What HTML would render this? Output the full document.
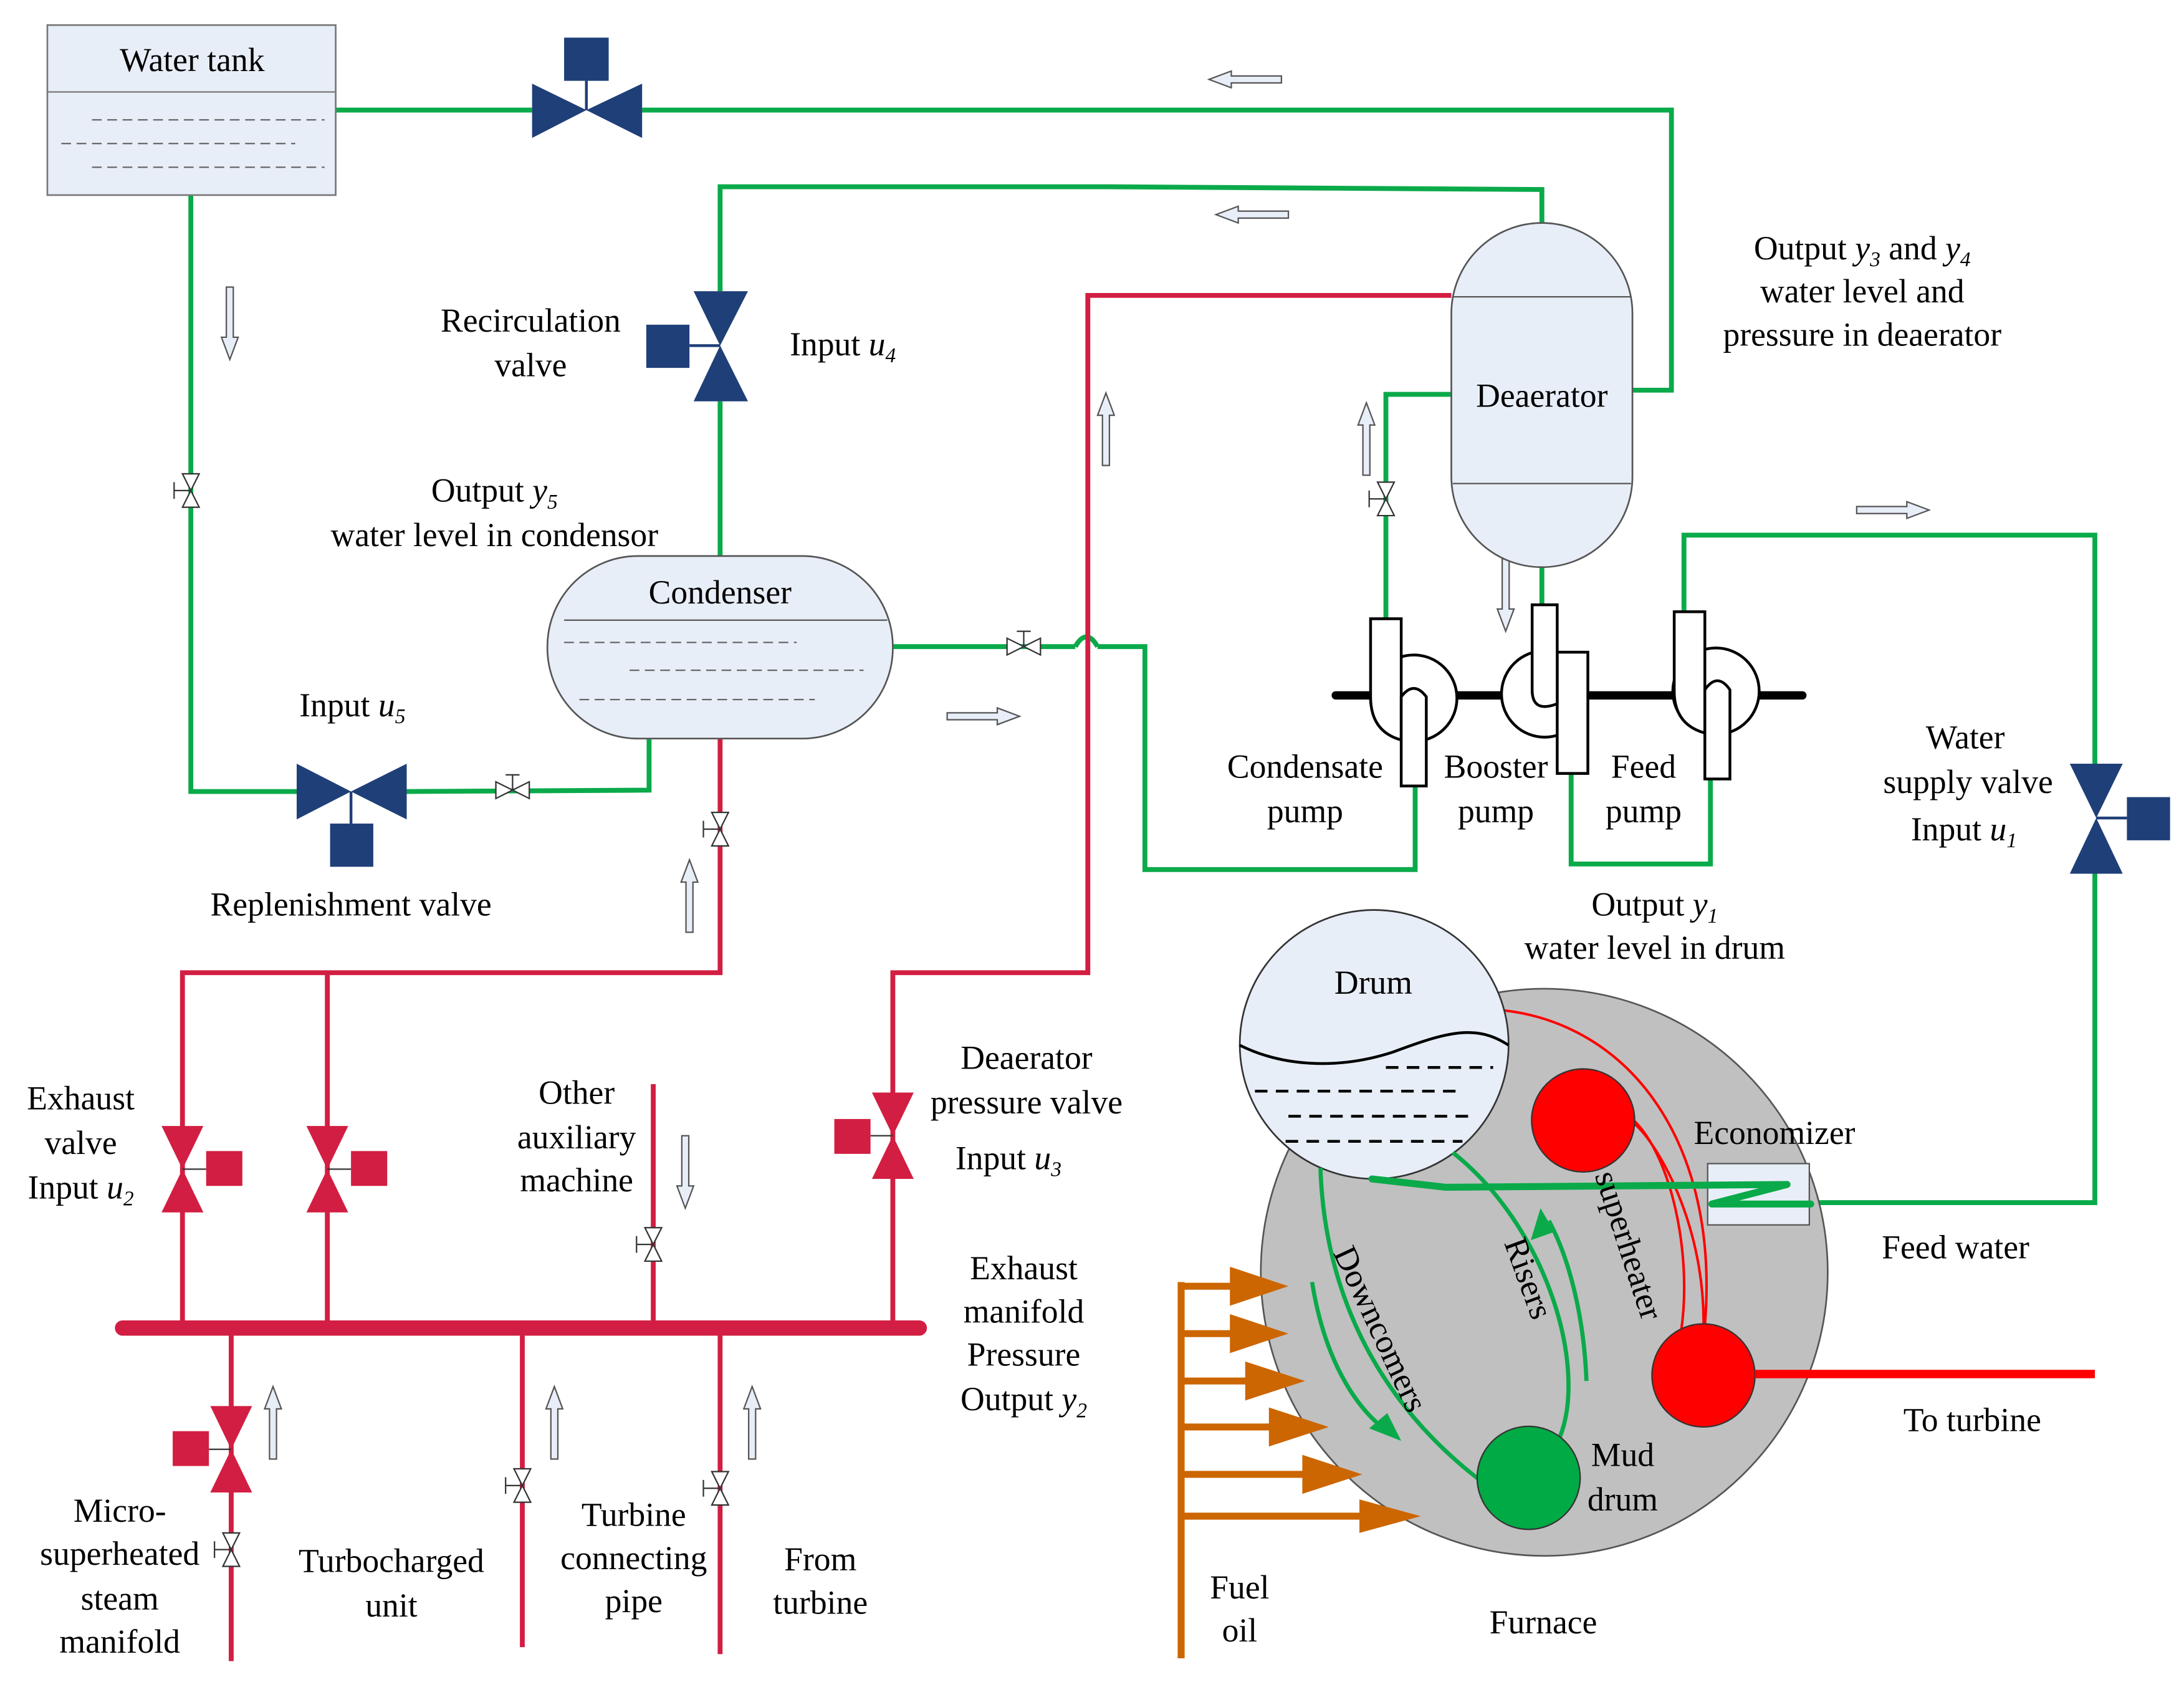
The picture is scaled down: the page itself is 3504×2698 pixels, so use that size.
<!DOCTYPE html>
<html><head><meta charset="utf-8"><style>
html,body{margin:0;padding:0;background:#fff;}
svg{display:block;}
svg text{font-family:"Liberation Serif","Times New Roman","DejaVu Serif",serif;font-size:24px;fill:#000;}
</style></head><body>
<svg width="3504" height="2698" viewBox="0 0 1568 1207" preserveAspectRatio="none" xmlns="http://www.w3.org/2000/svg" font-family="Liberation Serif, serif">
<defs>
<g id="svv"><polygon points="-6,-12 6,-12 0,0" fill="#fff" stroke="#333" stroke-width="1"/><polygon points="-6,12 6,12 0,0" fill="#fff" stroke="#333" stroke-width="1"/><line x1="0" y1="0" x2="-12" y2="0" stroke="#333"/><line x1="-12" y1="-6" x2="-12" y2="6" stroke="#333"/></g>
<g id="svh"><polygon points="-12,-6 -12,6 0,0" fill="#fff" stroke="#333"/><polygon points="12,-6 12,6 0,0" fill="#fff" stroke="#333"/><line x1="0" y1="0" x2="0" y2="-11" stroke="#333"/><line x1="-5" y1="-11" x2="5" y2="-11" stroke="#333"/></g>
<g id="aup"><polygon points="-2.5,52 2.5,52 2.5,16 6,16 0,0 -6,16 -2.5,16" fill="#e8eef8" stroke="#555" stroke-width="1"/></g>
<g id="redv"><polygon points="-15,0 15,0 0,31" fill="#d21e42"/><polygon points="-15,62 15,62 0,31" fill="#d21e42"/></g>
</defs>

<g fill="none" stroke="#0aaa4a" stroke-width="3.5">
<polyline points="241,79 382,79"/>
<polyline points="461,79 1200,79 1200,280 1172,280"/>
<polyline points="137,140 137,568 213,568"/>
<polyline points="292,568 466,567 466,530"/>
<polyline points="517,399 517,288"/>
<polyline points="517,209 517,134 792,134 1107,136 1107,160"/>
<polyline points="1042,283 995,283 995,444"/>
<polyline points="641,464 772,464"/>
<path d="M772,464 q8,-14 16,0"/>
<polyline points="788,464 822,464 822,624 1016,624 1016,564"/>
<polyline points="1107,407 1107,434"/>
<polyline points="1128,555 1128,620 1228,620 1228,559"/>
<polyline points="1209,439 1209,384 1504,384 1504,548"/>
<polyline points="1504,627 1504,863 1300,863"/>
</g>

<g fill="none" stroke="#d21e42" stroke-width="3.5">
<polyline points="1042,212 781,212 781,698 641,698 641,953"/>
<polyline points="517,530 517,698 131,698 131,953"/>
<polyline points="235,698 235,953"/>
<polyline points="469,778 469,953"/>
<polyline points="166,953 166,1192"/>
<polyline points="375,953 375,1182"/>
<polyline points="517,953 517,1187"/>
</g>
<line x1="88" y1="953" x2="660" y2="953" stroke="#d21e42" stroke-width="11" stroke-linecap="round"/>

<rect x="34" y="18" width="207" height="122" fill="#e8eef8" stroke="#777" stroke-width="1.2"/>
<line x1="34" y1="66" x2="241" y2="66" stroke="#777"/>
<g stroke="#666" stroke-dasharray="7,4"><line x1="66" y1="86" x2="233" y2="86"/><line x1="44" y1="103" x2="212" y2="103"/><line x1="66" y1="120" x2="233" y2="120"/></g>
<text x="138" y="51" text-anchor="middle">Water tank</text>

<g fill="#1f3f78">
<polygon points="382,60 382,99 421,79"/><polygon points="461,60 461,99 421,79"/>
<rect x="405" y="27" width="32" height="31"/>
<line x1="421" y1="58" x2="421" y2="79" stroke="#1f3f78" stroke-width="2"/>
<polygon points="213,548 213,588 252,568"/><polygon points="292,548 292,588 252,568"/>
<rect x="237" y="591" width="31" height="31"/>
<line x1="252" y1="568" x2="252" y2="591" stroke="#1f3f78" stroke-width="2"/>
<polygon points="498,209 537,209 517,248"/><polygon points="498,288 537,288 517,248"/>
<rect x="464" y="233" width="31" height="31"/>
<line x1="495" y1="248" x2="517" y2="248" stroke="#1f3f78" stroke-width="2"/>
<polygon points="1486,548 1524,548 1505,587"/><polygon points="1486,627 1524,627 1505,587"/>
<rect x="1527" y="572" width="31" height="31"/>
<line x1="1505" y1="587" x2="1527" y2="587" stroke="#1f3f78" stroke-width="2"/>
</g>

<use href="#redv" x="131" y="808"/><rect x="148" y="826" width="26" height="25" fill="#d21e42"/><line x1="131" y1="839" x2="148" y2="839" stroke="#333"/>
<use href="#redv" x="235" y="808"/><rect x="252" y="826" width="26" height="25" fill="#d21e42"/><line x1="235" y1="839" x2="252" y2="839" stroke="#333"/>
<use href="#redv" x="641" y="784"/><rect x="599" y="803" width="26" height="25" fill="#d21e42"/><line x1="625" y1="815" x2="641" y2="815" stroke="#333"/>
<use href="#redv" x="166" y="1009"/><rect x="124" y="1027" width="26" height="25" fill="#d21e42"/><line x1="150" y1="1040" x2="166" y2="1040" stroke="#333"/>

<use href="#svv" x="137" y="352"/>
<use href="#svv" x="995" y="358"/>
<use href="#svv" x="517" y="595"/>
<use href="#svv" x="469" y="893"/>
<use href="#svv" x="166" y="1112"/>
<use href="#svv" x="375" y="1066"/>
<use href="#svv" x="517" y="1068"/>
<use href="#svh" x="368" y="567"/>
<use href="#svh" x="735" y="464"/>

<use href="#aup" transform="translate(868,57) rotate(-90)"/>
<use href="#aup" transform="translate(873,154) rotate(-90)"/>
<use href="#aup" transform="translate(1385,366) rotate(90)"/>
<use href="#aup" transform="translate(732,514) rotate(90)"/>
<use href="#aup" transform="translate(165,258) rotate(180)"/>
<use href="#aup" transform="translate(1081,453) rotate(180)"/>
<use href="#aup" transform="translate(492,867) rotate(180)"/>
<use href="#aup" transform="translate(981,289)"/>
<use href="#aup" transform="translate(794,282)"/>
<use href="#aup" transform="translate(495,617)"/>
<use href="#aup" transform="translate(196,995)"/>
<use href="#aup" transform="translate(398,995)"/>
<use href="#aup" transform="translate(540,995)"/>

<rect x="393" y="399" width="248" height="131" rx="65" ry="65" fill="#e8eef8" stroke="#555" stroke-width="1.2"/>
<line x1="405" y1="445" x2="637" y2="445" stroke="#555"/>
<g stroke="#666" stroke-dasharray="7,4"><line x1="405" y1="461" x2="572" y2="461"/><line x1="452" y1="481" x2="620" y2="481"/><line x1="416" y1="502" x2="585" y2="502"/></g>
<text x="517" y="433" text-anchor="middle">Condenser</text>

<rect x="1042" y="160" width="130" height="247" rx="65" ry="65" fill="#e8eef8" stroke="#555" stroke-width="1.2"/>
<line x1="1043" y1="213" x2="1171" y2="213" stroke="#555"/>
<line x1="1043" y1="347" x2="1171" y2="347" stroke="#555"/>
<text x="1107" y="292" text-anchor="middle">Deaerator</text>

<line x1="959" y1="499" x2="1294" y2="499" stroke="#000" stroke-width="6" stroke-linecap="round"/>
<g fill="#fff" stroke="#000" stroke-width="2">
<circle cx="1015" cy="501" r="31"/>
<path d="M984,444 H1006 V531 Q984,525 984,500 Z"/>
<path d="M1006,564 V500 Q1015,488 1024,500 V564 Z"/>
<circle cx="1109" cy="498" r="31"/>
<path d="M1118,468 V555 H1140 V468 Z"/>
<path d="M1100,434 H1118 V505 Q1100,512 1100,495 Z"/>
<circle cx="1232" cy="496" r="31"/>
<path d="M1202,439 H1224 V526 Q1202,520 1202,496 Z"/>
<path d="M1224,559 V495 Q1233,482 1242,495 V559 Z"/>
</g>

<circle cx="1108.7" cy="913" r="203.5" fill="#c0c0c0" stroke="#555" stroke-width="1.2"/>
<g fill="none" stroke="#ff0000" stroke-width="1.8">
<path d="M1079,725 C1170,735 1235,820 1224,951"/>
<path d="M1173,804 C1200,830 1215,900 1207,955"/>
<path d="M1173,806 C1190,820 1225,880 1223,955"/>
</g>
<circle cx="1136.6" cy="804" r="37" fill="#ff0000" stroke="#333"/>
<circle cx="1223" cy="987" r="37" fill="#ff0000" stroke="#333"/>
<line x1="1260" y1="986" x2="1504" y2="986" stroke="#ff0000" stroke-width="6"/>
<rect x="1226" y="835" width="73" height="44" fill="#e8eef8" stroke="#555"/>
<circle cx="986.6" cy="749.5" r="96.5" fill="#e8eef8" stroke="#333" stroke-width="1.2"/>
<path d="M890,750 C920,765 960,768 1000,755 C1040,740 1060,735 1083,750" fill="none" stroke="#000" stroke-width="2"/>
<g stroke="#000" stroke-width="2" stroke-dasharray="9,6">
<line x1="995" y1="766" x2="1072" y2="766"/><line x1="901" y1="783" x2="1050" y2="783"/><line x1="925" y1="801" x2="1058" y2="801"/><line x1="923" y1="819" x2="1050" y2="819"/>
</g>
<text x="986" y="713" text-anchor="middle">Drum</text>
<g fill="none" stroke="#0aaa4a" stroke-width="3">
<path d="M948,838 C950,900 970,990 1061,1061"/>
<path d="M1043,827 C1110,880 1140,980 1120,1031"/>
<path d="M942,920 C950,970 970,1010 1000,1030"/>
<path d="M1139,991 C1137,940 1125,900 1112,876"/>
</g>
<polygon points="1006,1034 983,1025 996,1014" fill="#0aaa4a"/>
<polygon points="1106,867 1099,890 1116,884" fill="#0aaa4a"/>
<circle cx="1097.5" cy="1060.5" r="37" fill="#00aa44" stroke="#333"/>
<polyline points="985,846 1038,852 1283,850 1229,864 1300,864" fill="none" stroke="#0aaa4a" stroke-width="5" stroke-linejoin="round" stroke-linecap="round"/>
<text transform="translate(984,957) rotate(65)" text-anchor="middle">Downcomers</text>
<text transform="translate(1090,920) rotate(70)" text-anchor="middle">Risers</text>
<text transform="translate(1162,896) rotate(72)" text-anchor="middle">superheater</text>

<line x1="848" y1="920" x2="848" y2="1190" stroke="#cc6600" stroke-width="5"/>
<g fill="#cc6600" stroke="#cc6600" stroke-width="5">
<line x1="848" y1="923" x2="890" y2="923"/><polygon points="883,909 925,923 883,937" stroke="none"/>
<line x1="848" y1="957" x2="890" y2="957"/><polygon points="883,943 925,957 883,971" stroke="none"/>
<line x1="848" y1="991" x2="900" y2="991"/><polygon points="894,977 937,991 894,1005" stroke="none"/>
<line x1="848" y1="1024" x2="915" y2="1024"/><polygon points="911,1010 954,1024 911,1038" stroke="none"/>
<line x1="848" y1="1058" x2="940" y2="1058"/><polygon points="935,1044 978,1058 935,1072" stroke="none"/>
<line x1="848" y1="1088" x2="980" y2="1088"/><polygon points="976,1076 1020,1088 976,1100" stroke="none"/>
</g>

<text x="381" y="238" text-anchor="middle">Recirculation</text>
<text x="381" y="270" text-anchor="middle">valve</text>
<text x="567" y="255">Input <tspan font-style="italic">u</tspan><tspan font-style="italic" font-size="15" dy="5">4</tspan></text>
<text x="355" y="360" text-anchor="middle">Output <tspan font-style="italic">y</tspan><tspan font-style="italic" font-size="15" dy="5">5</tspan></text>
<text x="355" y="392" text-anchor="middle">water level in condensor</text>
<text x="253" y="514" text-anchor="middle">Input <tspan font-style="italic">u</tspan><tspan font-style="italic" font-size="15" dy="5">5</tspan></text>
<text x="252" y="657" text-anchor="middle">Replenishment valve</text>
<text x="1337" y="186" text-anchor="middle">Output <tspan font-style="italic">y</tspan><tspan font-style="italic" font-size="15" dy="5">3</tspan><tspan dy="-5"> and </tspan><tspan font-style="italic">y</tspan><tspan font-style="italic" font-size="15" dy="5">4</tspan></text>
<text x="1337" y="217" text-anchor="middle">water level and</text>
<text x="1337" y="248" text-anchor="middle">pressure in deaerator</text>
<text x="937" y="558" text-anchor="middle">Condensate</text><text x="937" y="590" text-anchor="middle">pump</text>
<text x="1074" y="558" text-anchor="middle">Booster</text><text x="1074" y="590" text-anchor="middle">pump</text>
<text x="1180" y="558" text-anchor="middle">Feed</text><text x="1180" y="590" text-anchor="middle">pump</text>
<text x="1411" y="537" text-anchor="middle">Water</text>
<text x="1413" y="569" text-anchor="middle">supply valve</text>
<text x="1410" y="603" text-anchor="middle">Input <tspan font-style="italic">u</tspan><tspan font-style="italic" font-size="15" dy="5">1</tspan></text>
<text x="1188" y="657" text-anchor="middle">Output <tspan font-style="italic">y</tspan><tspan font-style="italic" font-size="15" dy="5">1</tspan></text>
<text x="1188" y="688" text-anchor="middle">water level in drum</text>
<text x="1274" y="821" text-anchor="middle">Economizer</text>
<text x="1404" y="903" text-anchor="middle">Feed water</text>
<text x="1416" y="1027" text-anchor="middle">To turbine</text>
<text x="1165" y="1052" text-anchor="middle">Mud</text>
<text x="1165" y="1084" text-anchor="middle">drum</text>
<text x="890" y="1147" text-anchor="middle">Fuel</text>
<text x="890" y="1178" text-anchor="middle">oil</text>
<text x="1108" y="1172" text-anchor="middle">Furnace</text>
<text x="58" y="796" text-anchor="middle">Exhaust</text>
<text x="58" y="828" text-anchor="middle">valve</text>
<text x="58" y="860" text-anchor="middle">Input <tspan font-style="italic">u</tspan><tspan font-style="italic" font-size="15" dy="5">2</tspan></text>
<text x="414" y="792" text-anchor="middle">Other</text>
<text x="414" y="824" text-anchor="middle">auxiliary</text>
<text x="414" y="855" text-anchor="middle">machine</text>
<text x="737" y="767" text-anchor="middle">Deaerator</text>
<text x="737" y="799" text-anchor="middle">pressure valve</text>
<text x="724" y="839" text-anchor="middle">Input <tspan font-style="italic">u</tspan><tspan font-style="italic" font-size="15" dy="5">3</tspan></text>
<text x="735" y="918" text-anchor="middle">Exhaust</text>
<text x="735" y="949" text-anchor="middle">manifold</text>
<text x="735" y="980" text-anchor="middle">Pressure</text>
<text x="735" y="1012" text-anchor="middle">Output <tspan font-style="italic">y</tspan><tspan font-style="italic" font-size="15" dy="5">2</tspan></text>
<text x="86" y="1092" text-anchor="middle">Micro-</text>
<text x="86" y="1123" text-anchor="middle">superheated</text>
<text x="86" y="1155" text-anchor="middle">steam</text>
<text x="86" y="1186" text-anchor="middle">manifold</text>
<text x="281" y="1128" text-anchor="middle">Turbocharged</text>
<text x="281" y="1160" text-anchor="middle">unit</text>
<text x="455" y="1095" text-anchor="middle">Turbine</text>
<text x="455" y="1126" text-anchor="middle">connecting</text>
<text x="455" y="1157" text-anchor="middle">pipe</text>
<text x="589" y="1127" text-anchor="middle">From</text>
<text x="589" y="1158" text-anchor="middle">turbine</text>
</svg>
</body></html>
